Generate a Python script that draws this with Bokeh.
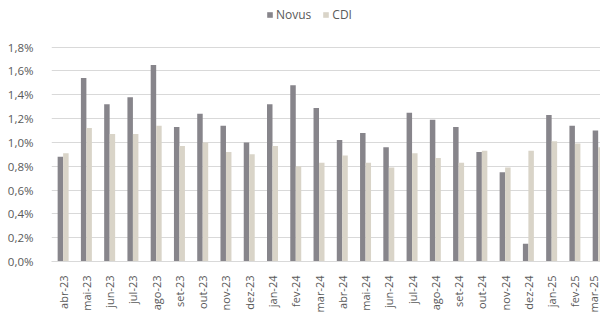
import math
from bokeh.plotting import figure
from bokeh.models import (ColumnDataSource, FixedTicker, CustomJSTickFormatter,
                          Range1d, Legend, LegendItem)
from bokeh.embed import file_html
from bokeh.resources import INLINE

months = ["abr-23", "mai-23", "jun-23", "jul-23", "ago-23", "set-23", "out-23",
          "nov-23", "dez-23", "jan-24", "fev-24", "mar-24", "abr-24", "mai-24",
          "jun-24", "jul-24", "ago-24", "set-24", "out-24", "nov-24", "dez-24",
          "jan-25", "fev-25", "mar-25"]
novus = [0.88, 1.54, 1.32, 1.38, 1.65, 1.13, 1.24, 1.14, 1.00, 1.32, 1.48, 1.29,
         1.02, 1.08, 0.96, 1.25, 1.19, 1.13, 0.92, 0.75, 0.15, 1.23, 1.14, 1.10]
cdi = [0.91, 1.12, 1.07, 1.07, 1.14, 0.97, 1.00, 0.92, 0.90, 0.97, 0.80, 0.83,
       0.89, 0.83, 0.79, 0.91, 0.87, 0.83, 0.93, 0.79, 0.93, 1.01, 0.99, 0.96]
y_ticks = [0.0, 0.2, 0.4, 0.6, 0.8, 1.0, 1.2, 1.4, 1.6, 1.8]

NOVUS_COLOR = "#87858B"
CDI_COLOR = "#D9D4C8"
TEXT_COLOR = "#595959"
GRID_COLOR = "#D9D9D9"
FONT = "Open Sans"

# layout: frame spans from the top of the figure; the 0-1.8% band occupies
# the lower 216 px, the space above holds the legend
H = 315
BOTTOM = 52
FRAME_H = H - BOTTOM
BAND_H = 216
y_top = 1.8 * FRAME_H / BAND_H

idx = list(range(len(months)))
src = ColumnDataSource(dict(
    xn=[i - 0.118 for i in idx],
    xc=[i + 0.118 for i in idx],
    novus=novus,
    cdi=cdi,
))

p = figure(width=600, height=H, output_backend="svg", toolbar_location=None,
           x_range=Range1d(-0.5, 23.1), y_range=Range1d(0, y_top),
           min_border_left=51, min_border_right=0, min_border_top=0,
           min_border_bottom=BOTTOM)
p.outline_line_color = None
p.background_fill_color = "white"
p.border_fill_color = "white"

rn = p.vbar(x="xn", top="novus", width=0.236, source=src,
            fill_color=NOVUS_COLOR, line_color=None)
rc = p.vbar(x="xc", top="cdi", width=0.236, source=src,
            fill_color=CDI_COLOR, line_color=None)

# axes
p.xaxis.ticker = FixedTicker(ticks=idx)
p.xaxis.major_label_overrides = {i: m for i, m in enumerate(months)}
p.xaxis.major_label_orientation = math.pi / 2
p.xaxis.major_tick_line_color = None
p.xaxis.minor_tick_line_color = None
p.xaxis.axis_line_color = GRID_COLOR
p.xaxis.major_label_standoff = 8
p.xaxis.major_label_text_font = FONT
p.xaxis.major_label_text_font_size = "11px"
p.xaxis.major_label_text_color = TEXT_COLOR

p.yaxis.ticker = FixedTicker(ticks=y_ticks)
p.yaxis.formatter = CustomJSTickFormatter(
    code="return tick.toFixed(1).replace('.', ',') + '%';")
p.yaxis.axis_line_color = None
p.yaxis.major_tick_line_color = None
p.yaxis.minor_tick_line_color = None
p.yaxis.major_label_standoff = 12
p.yaxis.major_label_text_font = FONT
p.yaxis.major_label_text_font_size = "11.5px"
p.yaxis.major_label_text_color = TEXT_COLOR

p.xgrid.grid_line_color = None
p.ygrid.ticker = FixedTicker(ticks=y_ticks)
p.ygrid.grid_line_color = GRID_COLOR
p.ygrid.grid_line_width = 1

legend = Legend(items=[LegendItem(label="Novus", renderers=[rn]),
                       LegendItem(label="CDI", renderers=[rc])],
                orientation="horizontal", location=(215, FRAME_H - 25),
                glyph_width=7, glyph_height=7, label_height=14,
                label_standoff=3, spacing=11,
                padding=0, margin=0, border_line_color=None,
                background_fill_alpha=0,
                label_text_font=FONT, label_text_font_size="12px",
                label_text_color=TEXT_COLOR)
p.add_layout(legend, "center")

open("out.html", "w").write(file_html(p, INLINE))
